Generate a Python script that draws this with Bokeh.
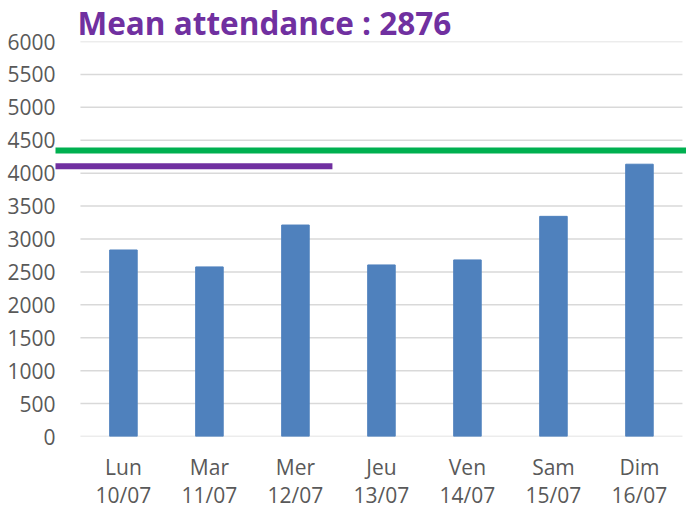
from bokeh.plotting import figure
from bokeh.models import FixedTicker, Range1d, Title
from bokeh.embed import file_html
from bokeh.resources import INLINE

days = ["Lun", "Mar", "Mer", "Jeu", "Ven", "Sam", "Dim"]
dates = ["10/07", "11/07", "12/07", "13/07", "14/07", "15/07", "16/07"]
attendance = [2833, 2576, 3212, 2606, 2682, 3344, 4136]
y_ticks = list(range(0, 6001, 500))
title_text = "Mean attendance : 2876"
green_level = 4345
purple_level = 4106
purple_end = 2.43

xs = list(range(len(days)))

p = figure(width=686, height=511, output_backend="svg", toolbar_location=None,
           x_range=Range1d(-0.79, 6.547), y_range=Range1d(0, 6000),
           min_border_left=55, min_border_right=0, min_border_top=0, min_border_bottom=0)
p.outline_line_color = None
p.background_fill_color = "white"
p.border_fill_color = "white"
p.xgrid.visible = False
p.ygrid.visible = False

# custom gridlines spanning the category area only
p.segment(x0=[-0.5] * len(y_ticks), x1=[6.5] * len(y_ticks), y0=y_ticks, y1=y_ticks,
          line_color="#D9D9D9", line_width=1.5)

p.vbar(x=xs, top=attendance, width=0.32, fill_color="#4F81BD", line_color="#4F81BD")

p.segment(x0=[-0.9], x1=[7.0], y0=[green_level], y1=[green_level],
          line_color="#00B050", line_width=6)
p.segment(x0=[-0.9], x1=[purple_end], y0=[purple_level], y1=[purple_level],
          line_color="#7030A0", line_width=6)

p.yaxis.ticker = FixedTicker(ticks=y_ticks)
p.yaxis.axis_line_color = None
p.yaxis.major_tick_line_color = None
p.yaxis.minor_tick_line_color = None
p.yaxis.major_tick_out = 0
p.yaxis.major_label_standoff = 0
p.yaxis.major_label_text_font = "Open Sans"
p.yaxis.major_label_text_font_size = "21px"
p.yaxis.major_label_text_color = "#595959"

p.xaxis.ticker = FixedTicker(ticks=xs)
p.xaxis.major_label_overrides = {i: f"{d}\n{dt}" for i, (d, dt) in enumerate(zip(days, dates))}
p.xaxis.axis_line_color = None
p.xaxis.major_tick_line_color = None
p.xaxis.minor_tick_line_color = None
p.xaxis.major_tick_out = 0
p.xaxis.major_label_standoff = 16
p.xaxis.major_label_text_font = "Open Sans"
p.xaxis.major_label_text_font_size = "21px"
p.xaxis.major_label_text_line_height = 1.0
p.xaxis.major_label_text_color = "#595959"

p.title = Title(text=title_text, text_font="Open Sans", text_font_size="31.5px",
                text_font_style="bold", text_color="#7030A0", align="left",
                offset=22, standoff=-4, text_line_height=0.8)

open("out.html", "w").write(file_html(p, INLINE))
